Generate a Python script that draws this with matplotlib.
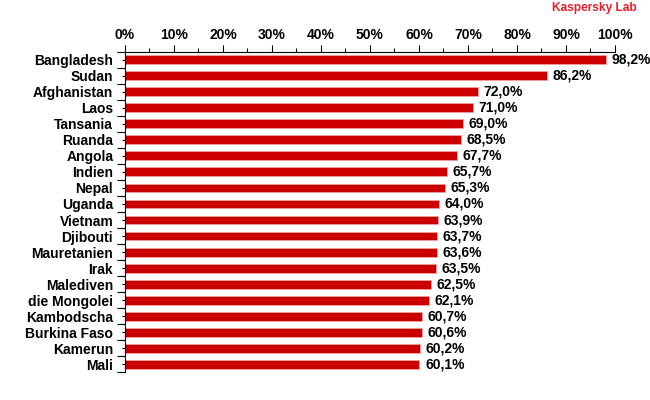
import numpy as np
import matplotlib
matplotlib.use("Agg")
import matplotlib.pyplot as plt
from matplotlib.ticker import MultipleLocator, FixedLocator, PercentFormatter

countries = [
    "Bangladesh", "Sudan", "Afghanistan", "Laos", "Tansania", "Ruanda",
    "Angola", "Indien", "Nepal", "Uganda", "Vietnam", "Djibouti",
    "Mauretanien", "Irak", "Malediven", "die Mongolei", "Kambodscha",
    "Burkina Faso", "Kamerun", "Mali",
]
shares = [
    98.2, 86.2, 72.0, 71.0, 69.0, 68.5, 67.7, 65.7, 65.3, 64.0,
    63.9, 63.7, 63.6, 63.5, 62.5, 62.1, 60.7, 60.6, 60.2, 60.1,
]

plt.rcParams["font.family"] = ["Liberation Sans", "DejaVu Sans"]
plt.rcParams["font.weight"] = "bold"

fig = plt.figure(figsize=(6.5, 4.0), dpi=100)
ax = fig.add_axes([0.1923, 0.069, 0.7538, 0.802])

y = np.arange(len(countries))
ax.barh(y, shares, height=0.55, color="#cc0000", edgecolor="#f0a0a0", linewidth=0.6)

for yi, v in zip(y, shares):
    ax.annotate(f"{v:.1f}%".replace(".", ","), (v, yi), xytext=(4, 0),
                textcoords="offset points", va="center", ha="left",
                fontsize=10, fontweight="bold")

ax.set_xlim(0, 100)
ax.set_ylim(len(countries) - 0.5, -0.5)

ax.xaxis.tick_top()
ax.xaxis.set_major_locator(MultipleLocator(10))
ax.xaxis.set_minor_locator(MultipleLocator(5))
ax.xaxis.set_major_formatter(PercentFormatter(decimals=0))
ax.tick_params(axis="x", which="major", length=5, width=0.8, pad=2, labelsize=10)
ax.tick_params(axis="x", which="minor", length=3, width=0.8)

ax.yaxis.set_major_locator(FixedLocator(np.arange(-0.5, len(countries), 1)))
ax.yaxis.set_minor_locator(FixedLocator(y))
ax.set_yticks(y, countries, minor=True)
ax.set_yticklabels([], minor=False)
ax.tick_params(axis="y", which="major", length=6, width=0.8)
ax.tick_params(axis="y", which="minor", length=2, width=0.8, pad=6.5, labelsize=10)

for side in ("right", "bottom"):
    ax.spines[side].set_visible(False)
for side in ("left", "top"):
    ax.spines[side].set_linewidth(0.8)

fig.text(0.98, 0.995, "Kaspersky Lab", color="#e8202a", fontsize=8.6,
         fontweight="bold", ha="right", va="top")

fig.savefig("out.png", dpi=100)
